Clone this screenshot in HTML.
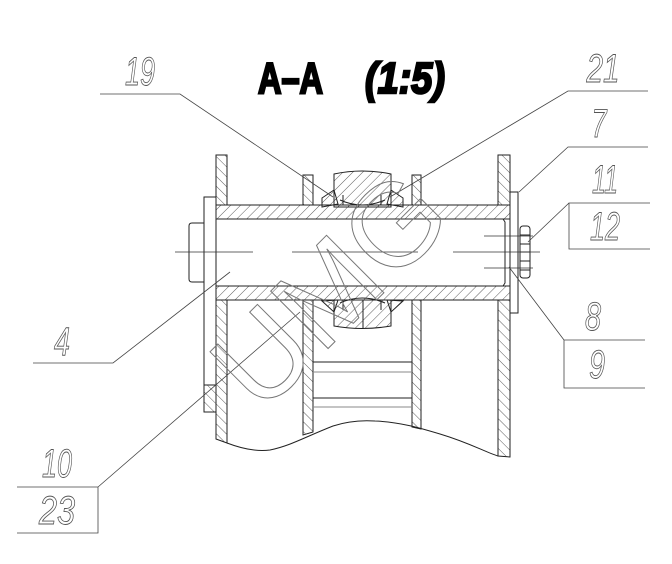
<!DOCTYPE html>
<html><head><style>
html,body{margin:0;padding:0;background:#fff;width:672px;height:564px;overflow:hidden}
svg{display:block}
.n{font-family:"Liberation Sans",sans-serif;font-style:italic;font-size:40px;fill:none;stroke:#555;stroke-width:0.9}
</style></head><body>
<svg width="672" height="564" viewBox="0 0 672 564" xmlns="http://www.w3.org/2000/svg">
<defs>
<pattern id="h1" patternUnits="userSpaceOnUse" width="7" height="7" patternTransform="rotate(45)"><line x1="0" y1="0" x2="0" y2="7" stroke="#333" stroke-width="0.8"/></pattern>
<pattern id="h2" patternUnits="userSpaceOnUse" width="7" height="7" patternTransform="rotate(-45)"><line x1="0" y1="0" x2="0" y2="7" stroke="#333" stroke-width="0.8"/></pattern>
</defs>
<g stroke="#222" stroke-width="1" fill="none">
<!-- title -->
<text x="258" y="93" font-family="Liberation Sans,sans-serif" font-weight="bold" font-size="44" fill="#000" stroke="#000" stroke-width="2.5" textLength="65" lengthAdjust="spacingAndGlyphs">A–A</text>
<text x="365" y="93" font-family="Liberation Sans,sans-serif" font-weight="bold" font-style="italic" font-size="44" fill="#000" stroke="#000" stroke-width="2.5" textLength="80" lengthAdjust="spacingAndGlyphs">(1:5)</text>

<rect x="216" y="205" width="294" height="14" fill="url(#h1)"/>
<rect x="216" y="286" width="294" height="14" fill="url(#h1)"/>
<rect x="216" y="155" width="11" height="50" fill="url(#h2)"/>
<path d="M216 300 V439 L227 443 V300 Z" fill="url(#h2)"/>
<rect x="498" y="155" width="12" height="50" fill="url(#h2)"/>
<path d="M498 300 V456 L510 457 V300 Z" fill="url(#h2)"/>
<rect x="303" y="175" width="10" height="30" fill="url(#h2)"/>
<path d="M303 300 V435 L313 432 V300 Z" fill="url(#h2)"/>
<rect x="412" y="175" width="9" height="30" fill="url(#h2)"/>
<path d="M412 300 V427 L421 429 V300 Z" fill="url(#h2)"/>
<path d="M334 174 Q362 168 391 174 V207 H334 Z" fill="url(#h1)"/>
<path d="M334 300 V326 Q362 331 391 326 V300 Z" fill="url(#h1)"/>
<line x1="363" y1="300" x2="363" y2="328"/>
<path d="M322 198 L334 190 L338 204 L322 207 Z" fill="url(#h1)"/>
<path d="M403 198 L391 190 L387 204 L403 207 Z" fill="url(#h1)"/>
<path d="M322 301 L334 312 L338 300 Z" fill="url(#h1)"/>
<path d="M403 301 L391 312 L387 300 Z" fill="url(#h1)"/>
<path d="M340 200 Q362 210 385 200 M340 303 Q362 293 385 303"/>
<line x1="343" y1="195" x2="343" y2="205"/><line x1="381" y1="195" x2="381" y2="205"/>
<line x1="343" y1="300" x2="343" y2="310"/><line x1="381" y1="300" x2="381" y2="310"/>
<line x1="227" y1="219" x2="498" y2="219"/>
<line x1="227" y1="286" x2="498" y2="286"/>
<path d="M498 219 H503 L505 222 V283 L503 286 H498"/>
<rect x="204" y="197" width="12" height="215"/>
<rect x="204" y="385" width="12" height="27" fill="url(#h2)"/>
<path d="M204 223 H192 Q189 223 189 226 V279 Q189 282 192 282 H204"/>
<rect x="510" y="192" width="8" height="121"/>
<rect x="520" y="226" width="10" height="52" rx="3"/>
<line x1="520" y1="235" x2="530" y2="235"/><line x1="520" y1="244" x2="530" y2="244"/><line x1="520" y1="252" x2="530" y2="252"/><line x1="520" y1="261" x2="530" y2="261"/><line x1="520" y1="270" x2="530" y2="270"/>
<g stroke="#333" stroke-width="0.8">
<line x1="175" y1="252" x2="253" y2="252"/>
<line x1="292" y1="252" x2="418" y2="252"/>
<line x1="453" y1="252" x2="540" y2="252"/>
<line x1="484" y1="236" x2="533" y2="236"/>
<line x1="484" y1="268" x2="533" y2="268"/>
</g>
<line x1="313" y1="362" x2="412" y2="362"/>
<line x1="313" y1="372" x2="412" y2="372" stroke="#888"/>
<line x1="313" y1="398" x2="412" y2="398"/>
<line x1="313" y1="407" x2="412" y2="407" stroke="#888"/>
<path d="M227 443 C240 448 255 452 270 450 C290 446 305 437 333 426 C345 422 360 420 375 421 C400 422 420 428 440 434 C470 443 485 452 498 456"/>
<g stroke="#444" stroke-width="0.8">
<path d="M100 94 H180 L333 197"/>
<path d="M648 91 H568 L390 197"/>
<path d="M648 147 H568 L519 192"/>
<path d="M650 203 H569 V249 H650 M569 203 L528 242"/>
<path d="M645 340 H564 V388 H645 M564 340 L509 267"/>
<path d="M33 363 H113 L230 272"/>
<path d="M17 487 H98 V533 H17 M98 487 L300 312"/>
</g>
</g>
<text x="330" y="330" font-family="Liberation Sans,sans-serif" font-size="118" fill="none" stroke="#777" stroke-width="1" text-anchor="middle" transform="rotate(-45 330 290)">UMG</text>
<g class="n" text-anchor="middle">
<text x="140" y="85" textLength="30" lengthAdjust="spacingAndGlyphs">19</text>
<text x="603" y="82" textLength="33" lengthAdjust="spacingAndGlyphs">21</text>
<text x="599" y="137" textLength="15" lengthAdjust="spacingAndGlyphs">7</text>
<text x="605" y="193" textLength="26" lengthAdjust="spacingAndGlyphs">11</text>
<text x="605" y="240" textLength="30" lengthAdjust="spacingAndGlyphs">12</text>
<text x="593" y="330" textLength="16" lengthAdjust="spacingAndGlyphs">8</text>
<text x="597" y="378" textLength="16" lengthAdjust="spacingAndGlyphs">9</text>
<text x="62" y="355" textLength="16" lengthAdjust="spacingAndGlyphs">4</text>
<text x="57" y="477" textLength="30" lengthAdjust="spacingAndGlyphs">10</text>
<text x="57" y="524" textLength="36" lengthAdjust="spacingAndGlyphs">23</text>
</g>
</svg>
</body></html>
